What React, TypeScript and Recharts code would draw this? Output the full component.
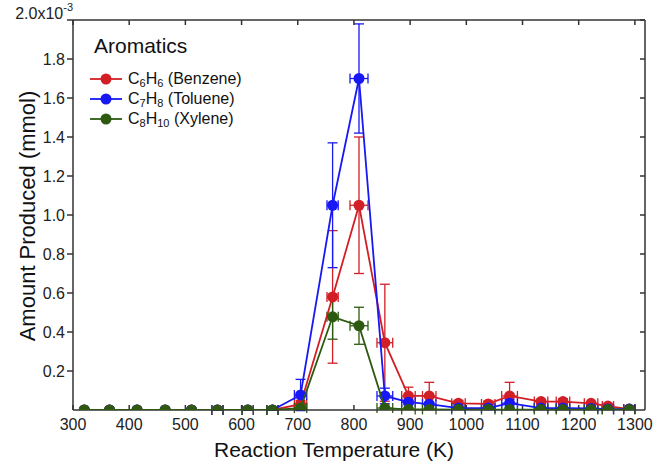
import React from 'react';
import { ScatterChart, Scatter, XAxis, YAxis, ErrorBar } from 'recharts';

// reaction temperature (K) and its uncertainty
const temps = [320, 365, 414, 464, 511, 557, 611, 655, 705, 762, 809, 855, 897, 934, 986, 1039, 1077, 1133, 1172, 1222, 1252, 1290];
const tempErr = [0, 0, 0, 0, 0, 10, 10, 10, 11, 10, 16, 14, 12, 12, 12, 12, 14, 12, 12, 12, 10, 10];

// amounts in units of 1e-3 mmol
const benzene = [0, 0, 0, 0, 0, 0, 0, 0, 0.03, 0.58, 1.05, 0.345, 0.072, 0.072, 0.034, 0.031, 0.072, 0.043, 0.043, 0.034, 0.02, 0.005];
const benzeneErr = [0, 0, 0, 0, 0, 0, 0, 0, 0.02, 0.34, 0.35, 0.3, 0.045, 0.07, 0.015, 0.015, 0.07, 0.012, 0.015, 0.01, 0.01, 0];
const toluene = [0, 0, 0, 0, 0, 0, 0, 0, 0.077, 1.05, 1.7, 0.072, 0.04, 0.03, 0.01, 0.01, 0.035, 0.01, 0.01, 0.008, 0.005, 0.005];
const tolueneErr = [0, 0, 0, 0, 0, 0, 0, 0, 0.08, 0.32, 0.28, 0.04, 0.01, 0.01, 0.005, 0.005, 0.02, 0.005, 0.005, 0, 0, 0];
const xylene = [0, 0, 0, 0, 0, 0, 0, 0, 0.01, 0.478, 0.432, 0.01, 0.003, 0.003, 0.002, 0.002, 0.002, 0.002, 0.002, 0.002, 0.002, 0.002];
const xyleneErr = [0, 0, 0, 0, 0, 0, 0, 0, 0.005, 0.115, 0.095, 0.005, 0, 0, 0, 0, 0, 0, 0, 0, 0, 0];

const xTicks = [300, 400, 500, 600, 700, 800, 900, 1000, 1100, 1200, 1300];
const yTicks = [0.2, 0.4, 0.6, 0.8, 1.0, 1.2, 1.4, 1.6, 1.8, 2.0];

const RED = '#d21f26';
const BLUE = '#1818f4';
const GREEN = '#2d5a10';
const AXIS = '#333';
const FONT = '"Liberation Sans", Arial, sans-serif';

const build = (vals: number[], errs: number[]) =>
  temps.map((t, i) => ({ t, v: vals[i], xe: tempErr[i], ye: errs[i] }));

const series = [
  { name: 'Benzene', sub: ['6', '6'], data: build(benzene, benzeneErr), color: RED },
  { name: 'Toluene', sub: ['7', '8'], data: build(toluene, tolueneErr), color: BLUE },
  { name: 'Xylene', sub: ['8', '10'], data: build(xylene, xyleneErr), color: GREEN },
];

const dot = (color: string) => (props: any) => (
  <circle cx={props.cx} cy={props.cy} r={5.5} fill={color} />
);

const YTick = (props: any) => {
  const { x, y, payload } = props;
  if (payload.value === 2) {
    return (
      <text x={73} y={y - 1} textAnchor="end" fontSize={16} fill="#222" fontFamily={FONT}>
        2.0x10<tspan dy={-8} fontSize={11}>-3</tspan>
      </text>
    );
  }
  return (
    <text x={x} y={y} dy={6} textAnchor="end" fontSize={16} fill="#222" fontFamily={FONT}>
      {payload.value.toFixed(1)}
    </text>
  );
};

const blank = () => '';

export default function App() {
  return (
    <div style={{ position: 'absolute', left: 0, top: 0, width: 654, height: 463, background: '#fff', fontFamily: FONT }}>
      <ScatterChart width={654} height={463} margin={{ top: 19, right: 8, bottom: 23, left: 0 }}>
        <XAxis
          type="number"
          dataKey="t"
          domain={[300, 1318]}
          ticks={xTicks}
          allowDataOverflow
          height={30}
          tickSize={-5}
          tickMargin={14}
          stroke={AXIS}
          strokeWidth={1.5}
          tick={{ fontSize: 16, fill: '#222', fontFamily: FONT }}
        />
        <XAxis
          xAxisId="top"
          orientation="top"
          type="number"
          dataKey="t"
          domain={[300, 1318]}
          ticks={xTicks}
          allowDataOverflow
          height={1}
          tickSize={-5}
          tickFormatter={blank}
          stroke={AXIS}
          strokeWidth={1.5}
        />
        <YAxis
          type="number"
          dataKey="v"
          domain={[0, 2]}
          ticks={yTicks}
          allowDataOverflow
          width={73}
          tickSize={6}
          tickMargin={2}
          stroke={AXIS}
          strokeWidth={1.5}
          tick={<YTick />}
        />
        <YAxis
          yAxisId="right"
          orientation="right"
          type="number"
          dataKey="v"
          domain={[0, 2]}
          ticks={yTicks}
          allowDataOverflow
          width={1}
          tickSize={-5}
          tickFormatter={blank}
          stroke={AXIS}
          strokeWidth={1.5}
        />
        {/* invisible series so the top and right frame axes get drawn */}
        <Scatter
          xAxisId="top"
          yAxisId="right"
          data={series[0].data}
          shape={() => null}
          legendType="none"
          isAnimationActive={false}
        />
        {series.map((s) => (
          <Scatter
            key={s.name}
            name={s.name}
            data={s.data}
            line={{ stroke: s.color, strokeWidth: 1.8 }}
            shape={dot(s.color)}
            fill={s.color}
            isAnimationActive={false}
          >
            <ErrorBar dataKey="ye" direction="y" stroke={s.color} strokeWidth={1.3} width={5} />
            <ErrorBar dataKey="xe" direction="x" stroke={s.color} strokeWidth={1.3} width={5} />
          </Scatter>
        ))}
      </ScatterChart>

      <div style={{ position: 'absolute', left: 334, top: 439, transform: 'translateX(-50%)', fontSize: 21, lineHeight: 1, whiteSpace: 'nowrap', color: '#111' }}>
        Reaction Temperature (K)
      </div>
      <div style={{ position: 'absolute', left: 28, top: 216, transform: 'translate(-50%, -50%) rotate(-90deg)', fontSize: 22, lineHeight: 1, whiteSpace: 'nowrap', color: '#111' }}>
        Amount Produced (mmol)
      </div>

      <div style={{ position: 'absolute', left: 94, top: 35, fontSize: 21, lineHeight: 1, color: '#111' }}>Aromatics</div>
      {series.map((s, i) => (
        <div key={s.name} style={{ position: 'absolute', left: 90, top: 79 + i * 20 - 10, height: 20, display: 'flex', alignItems: 'center', whiteSpace: 'nowrap', color: '#111', fontSize: 16 }}>
          <svg width={34} height={20} style={{ marginRight: 4 }}>
            <line x1={0} y1={10} x2={32} y2={10} stroke={s.color} strokeWidth={1.8} />
            <circle cx={16} cy={10} r={5.5} fill={s.color} />
          </svg>
          <span>
            C<sub style={{ fontSize: 11, verticalAlign: -3, lineHeight: 0 }}>{s.sub[0]}</sub>H
            <sub style={{ fontSize: 11, verticalAlign: -3, lineHeight: 0 }}>{s.sub[1]}</sub> ({s.name})
          </span>
        </div>
      ))}
    </div>
  );
}
